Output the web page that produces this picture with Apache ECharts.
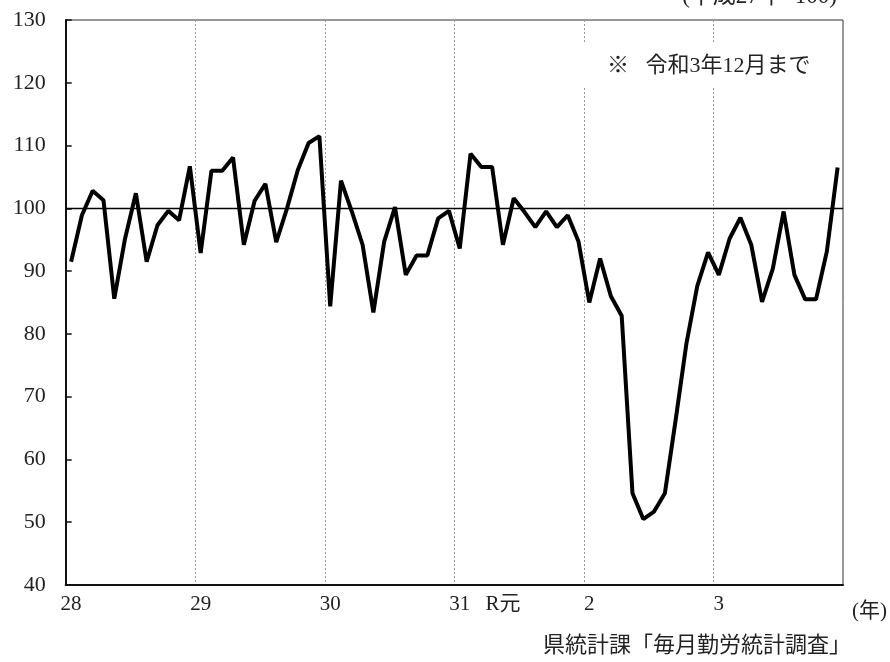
<!DOCTYPE html>
<html>
<head>
<meta charset="utf-8">
<script src="https://cdn.jsdelivr.net/npm/echarts@6/dist/echarts.min.js"></script>
<style>
html,body{margin:0;padding:0;background:#fff;}
#c{width:890px;height:662px;}
</style>
</head>
<body>
<div id="c"></div>
<script>
// Month categories: Jan H28 (2016) .. Dec R3 (2021)
const yearLabels = {0:'28', 12:'29', 24:'30', 36:'31', 40:'R元', 48:'2', 60:'3'};
const categories = [];
for (let i = 0; i < 72; i++) categories.push(yearLabels[i] || '');

const valuesH28 = [91.5, 98.9, 102.8, 101.3, 85.6, 95.2, 102.4, 91.5, 97.3, 99.6, 98.1, 106.7];
const valuesH29 = [92.9, 106.0, 106.0, 108.1, 94.2, 101.2, 103.9, 94.6, 100.0, 106.1, 110.4, 111.5];
const valuesH30 = [84.4, 104.4, 99.5, 94.2, 83.4, 94.7, 100.2, 89.4, 92.5, 92.5, 98.4, 99.6];
const valuesH31 = [93.6, 108.7, 106.6, 106.6, 94.2, 101.6, 99.4, 97.0, 99.5, 97.0, 98.9, 94.7];
const valuesR2  = [85.0, 92.0, 86.0, 82.9, 54.6, 50.5, 51.7, 54.6, 66.3, 78.5, 87.6, 93.0];
const valuesR3  = [89.4, 95.2, 98.5, 94.2, 85.1, 90.4, 99.5, 89.4, 85.5, 85.5, 93.1, 106.5];
const seriesValues = [].concat(valuesH28, valuesH29, valuesH30, valuesH31, valuesR2, valuesR3);

const yTicks = {min: 40, max: 130, interval: 10};
const baseLine = 100;

const serif = '"Liberation Serif", "DejaVu Serif", "Noto Sans CJK JP", serif';
const cjk = '"Liberation Serif", "Noto Sans CJK JP", serif';

const chart = echarts.init(document.getElementById('c'), null, {renderer: 'canvas'});
chart.setOption({
  animation: false,
  backgroundColor: '#fff',
  grid: {left: 65.7, right: 47, top: 20, bottom: 77, show: true, borderColor: '#333', borderWidth: 1, backgroundColor: 'transparent'},
  xAxis: {
    type: 'category',
    data: categories,
    boundaryGap: true,
    axisLine: {show: true, lineStyle: {color: '#111', width: 2}},
    axisTick: {show: false},
    axisLabel: {interval: 0, margin: 9, color: '#222', fontSize: 21, fontFamily: cjk},
    splitLine: {show: true, interval: function (i) { return i % 12 === 0; }, lineStyle: {color: '#999', type: [2, 2], width: 1}}
  },
  yAxis: {
    type: 'value',
    min: yTicks.min, max: yTicks.max, interval: yTicks.interval,
    axisLine: {show: true, lineStyle: {color: '#111', width: 2}},
    axisTick: {show: true, inside: true, length: 6, lineStyle: {color: '#111', width: 1.5}},
    axisLabel: {margin: 20, color: '#222', fontSize: 22, fontFamily: serif},
    splitLine: {show: false}
  },
  series: [{
    type: 'line',
    data: seriesValues,
    symbol: 'none',
    lineStyle: {color: '#000', width: 4},
    z: 5,
    markLine: {
      silent: true,
      symbol: 'none',
      label: {show: false},
      lineStyle: {color: '#000', width: 1.3, type: 'solid'},
      data: [{yAxis: baseLine}]
    }
  }],
  graphic: [
    {type: 'rect', z: 100, shape: {x: 568, y: 43, width: 268, height: 45}, style: {fill: '#fff'}},
    {type: 'text', z: 101, x: 607, y: 66, style: {text: '※   令和3年12月まで', font: '22px ' + cjk, fill: '#222', textVerticalAlign: 'middle', textAlign: 'left'}},
    {type: 'text', z: 101, x: 837, y: 8, style: {text: '(平成27年=100)', font: '23px ' + cjk, fill: '#222', textVerticalAlign: 'bottom', textAlign: 'right'}},
    {type: 'text', z: 101, x: 887, y: 611, style: {text: '(年)', font: '21px ' + cjk, fill: '#222', textVerticalAlign: 'middle', textAlign: 'right'}},
    {type: 'text', z: 101, x: 851, y: 646, style: {text: '県統計課「毎月勤労統計調査」', font: '22px ' + cjk, fill: '#222', textVerticalAlign: 'middle', textAlign: 'right'}}
  ]
});
</script>
</body>
</html>
